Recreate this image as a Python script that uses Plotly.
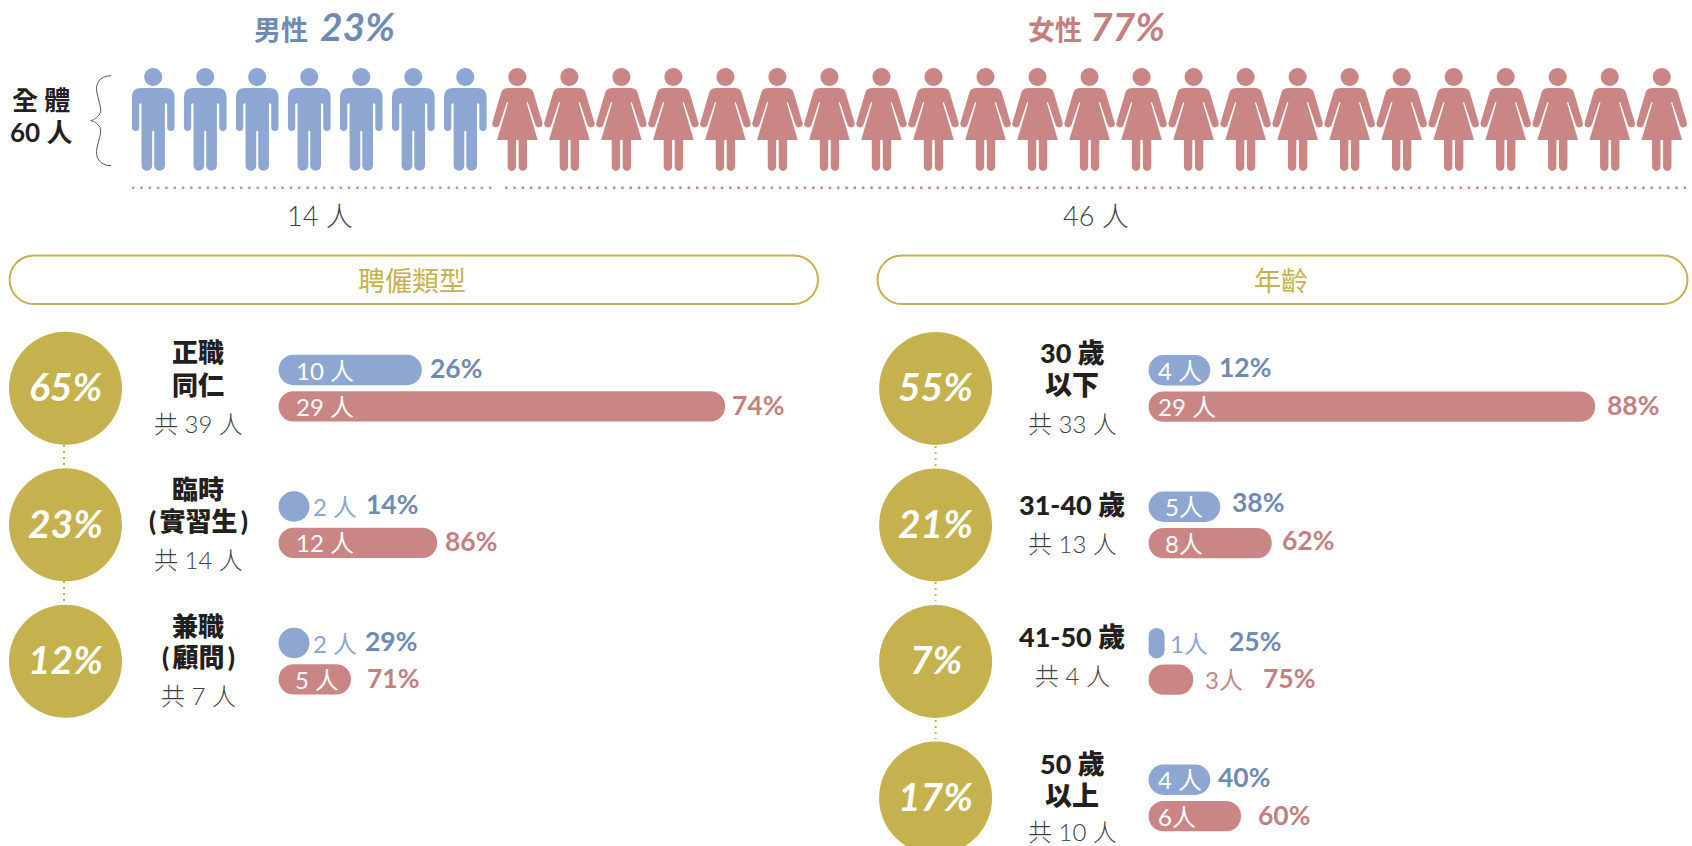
import plotly.graph_objects as go

# ---------- data ----------
total_label = ["全 體", "60 人"]
male_total = 14
female_total = 46
male_share = 23
female_share = 77
people_per_icon = 2

hire_names = [["正職", "同仁"], ["臨時", "(\u2009實習生\u2009)"], ["兼職", "(\u2009顧問\u2009)"]]
hire_share = [65, 23, 12]
hire_total = [39, 14, 7]
hire_male = [10, 2, 2]
hire_female = [29, 12, 5]
hire_male_pct = [26, 14, 29]
hire_female_pct = [74, 86, 71]
hire_male_bar = [9.3, 2.0, 2.0]
hire_female_bar = [29.0, 10.3, 4.7]

age_names = [["30 歲", "以下"], ["31-40 歲"], ["41-50 歲"], ["50 歲", "以上"]]
age_share = [55, 21, 7, 17]
age_total = [33, 13, 4, 10]
age_male = [4, 5, 1, 4]
age_female = [29, 8, 3, 6]
age_male_pct = [12, 38, 25, 40]
age_female_pct = [88, 62, 75, 60]
age_male_bar = [4.0, 4.65, 1.04, 4.0]
age_female_bar = [29.0, 8.0, 2.9, 6.0]

# ---------- style / layout constants ----------
W, H = 1692, 846
BLUE, PINK, GOLD = "#8EA6D2", "#C98685", "#C5B24E"
BLUE_T, PINK_T = "#708BB3", "#C47F81"
DARK, GREY = "#231F20", "#404040"
LAT = "Lato, 'Noto Sans CJK TC', sans-serif"
UNIT = 15.4
BAR_BASE = 3.0  # bars start away from the axis zero so both their ends get rounded

L = dict(x0=278.6, yc=388.2, dy=136.5, circle=65.5, label=198)
R = dict(x0=1148.6, yc=388.4, dy=136.5, circle=935.6, label=1072)

fig = go.Figure()
ann, shp = [], []


def text(x, y, s, size, color=DARK, weight=400, anchor="center", italic=False):
    ann.append(dict(
        x=x, y=y, xref="x3", yref="y3", text=s, showarrow=False, xanchor=anchor, yanchor="middle",
        borderpad=0, font=dict(family=LAT, size=size, color=color, weight=weight,
                               style="italic" if italic else "normal")))


def panel(P, xa, ya, xname, yname, share, male_bar, female_bar):
    n = len(share)
    male_y = [i - 18.2 / P["dy"] for i in range(n)]
    female_y = [i + 18.2 / P["dy"] for i in range(n)]
    thick = 30.4 / P["dy"]
    for ys, vals, col in ((male_y, male_bar, BLUE), (female_y, female_bar, PINK)):
        fig.add_trace(go.Bar(
            x=vals, y=ys, base=[BAR_BASE] * n, orientation="h", width=thick,
            marker=dict(color=col, cornerradius=15, line_width=0),
            xaxis=xa, yaxis=ya, showlegend=False, hoverinfo="skip"))
    cx = BAR_BASE + (P["circle"] - P["x0"]) / UNIT
    fig.add_trace(go.Scatter(
        x=[cx] * n, y=list(range(n)), mode="markers",
        marker=dict(size=113, color=GOLD, line_width=0),
        xaxis=xa, yaxis=ya, showlegend=False, hoverinfo="skip", cliponaxis=True))
    lay = {
        xname: dict(domain=[0, 1], range=[BAR_BASE - P["x0"] / UNIT, BAR_BASE + (W - P["x0"]) / UNIT],
                    visible=False, fixedrange=True),
        yname: dict(domain=[0, 1], range=[(H - P["yc"]) / P["dy"], -P["yc"] / P["dy"]], visible=False, fixedrange=True),
    }
    if xa != "x":
        lay[xname]["overlaying"] = "x"
        lay[yname]["overlaying"] = "y"
    lay[xname]["anchor"] = ya
    lay[yname]["anchor"] = xa
    fig.update_layout(**lay)
    for i in range(n):
        text(P["circle"], P["yc"] + P["dy"] * i - 2, f"{share[i]}%", 39, "white", 700, italic=True)


panel(L, "x", "y", "xaxis", "yaxis", hire_share, hire_male_bar, hire_female_bar)
panel(R, "x2", "y2", "xaxis2", "yaxis2", age_share, age_male_bar, age_female_bar)

fig.update_layout(
    xaxis3=dict(domain=[0, 1], range=[0, W], visible=False, fixedrange=True, overlaying="x", anchor="y3"),
    yaxis3=dict(domain=[0, 1], range=[H, 0], visible=False, fixedrange=True, overlaying="y", anchor="x3"),
)
fig.add_trace(go.Scatter(x=[0], y=[0], xaxis="x3", yaxis="y3", mode="markers", marker=dict(opacity=0, size=1),
                         showlegend=False, hoverinfo="skip"))


# ---------- shapes ----------
def shape_path(path, fill=None, line=None, width=0, layer="above"):
    d = dict(type="path", path=path, xref="x3", yref="y3", layer=layer, line=dict(width=width))
    if fill:
        d["fillcolor"] = fill
    if line:
        d["line"]["color"] = line
    shp.append(d)


def head(cx, cy, r=9.0):
    k = 0.5523 * r
    return (f"M{cx-r},{cy} C{cx-r},{cy-k} {cx-k},{cy-r} {cx},{cy-r} C{cx+k},{cy-r} {cx+r},{cy-k} {cx+r},{cy} "
            f"C{cx+r},{cy+k} {cx+k},{cy+r} {cx},{cy+r} C{cx-k},{cy+r} {cx-r},{cy+k} {cx-r},{cy} Z ")


def p(cx, top, pts):
    return " ".join(
        (f"{c}" + " ".join(f"{cx + a[i]:.2f},{top + a[i + 1]:.2f}" for i in range(0, len(a), 2))) for c, a in pts)


MAN = [("M", [-12, 0]), ("L", [12, 0]), ("Q", [21.3, 0, 21.3, 9]), ("L", [21.3, 39.5]),
       ("C", [21.3, 44.3, 14, 44.3, 14, 39.5]), ("L", [14, 16.5]), ("Q", [13, 15, 12.3, 15]), ("Q", [11.7, 15, 11.7, 16.5]),
       ("L", [11.7, 77.3]), ("C", [11.7, 84.5, 1, 84.5, 1, 77.3]), ("L", [1, 43]), ("L", [-1, 43]), ("L", [-1, 77.3]),
       ("C", [-1, 84.5, -11.7, 84.5, -11.7, 77.3]), ("L", [-11.7, 16.5]), ("Q", [-11.7, 15, -12.3, 15]),
       ("Q", [-13, 15, -14, 16.5]), ("L", [-14, 39.5]), ("C", [-14, 44.3, -21.3, 44.3, -21.3, 39.5]),
       ("L", [-21.3, 9]), ("Q", [-21.3, 0, -12, 0]), ("Z", [])]

WOMAN = [("M", [-9, 0]), ("L", [9, 0]), ("Q", [14.5, 0, 16, 4]), ("L", [25, 34.5]),
         ("C", [26.5, 39.5, 19.5, 41.5, 18, 36.8]), ("L", [10.5, 14.6]), ("Q", [9.7, 13.4, 9.3, 14.8]),
         ("L", [20.3, 52]), ("L", [9.7, 52]), ("L", [9.7, 78.3]), ("C", [9.7, 84.5, 1.3, 84.5, 1.3, 78.3]), ("L", [1.3, 52]),
         ("L", [-1.3, 52]), ("L", [-1.3, 78.3]), ("C", [-1.3, 84.5, -9.7, 84.5, -9.7, 78.3]), ("L", [-9.7, 52]),
         ("L", [-20.3, 52]), ("L", [-9.3, 14.8]), ("Q", [-9.7, 13.4, -10.5, 14.6]), ("L", [-18, 36.8]),
         ("C", [-19.5, 41.5, -26.5, 39.5, -25, 34.5]), ("L", [-16, 4]), ("Q", [-14.5, 0, -9, 0]), ("Z", [])]

n_men = male_total // people_per_icon
n_women = female_total // people_per_icon
ICON_X0, ICON_DX, ICON_TOP = 153.2, 52.02, 88.0
for i in range(n_men + n_women):
    cx = ICON_X0 + ICON_DX * i
    man = i < n_men
    shape_path(head(cx, ICON_TOP - 11) + p(cx, ICON_TOP, MAN if man else WOMAN), BLUE if man else PINK)

# brace
shape_path("M111,75.7 C99,76 95,84 97,93 C99,103 103,111 99,115 C96,119 93,120 90.7,120.7 "
           "C93,121 96,122 99,126 C103,130 99,138 97,148 C95,157 99,165.4 111,165.7", line="#555555", width=1)


def line(x0, y0, x1, y1, color, width, dash):
    shp.append(dict(type="line", x0=x0, y0=y0, x1=x1, y1=y1, xref="x3", yref="y3", layer="below",
                    line=dict(color=color, width=width, dash=dash)))


line(132, 187.7, 495.6, 187.7, BLUE, 2.5, "2.5px,5.8px")
line(505, 187.7, 1686, 187.7, PINK, 2.5, "2.5px,5.8px")
for x, segs in ((64, [(445, 466), (581, 602)]), (935.6, [(446, 466), (582, 601), (720, 739)])):
    for a, b in segs:
        line(x, a, x, b, GOLD, 2, "2px,4px")


def pill(x0, x1, y0, y1):
    r = (y1 - y0) / 2
    k = r * 0.5523
    shape_path(f"M{x0+r},{y0} L{x1-r},{y0} C{x1-r+k},{y0} {x1},{y0+r-k} {x1},{y0+r} C{x1},{y0+r+k} {x1-r+k},{y1} {x1-r},{y1} "
               f"L{x0+r},{y1} C{x0+r-k},{y1} {x0},{y0+r+k} {x0},{y0+r} C{x0},{y0+r-k} {x0+r-k},{y0} {x0+r},{y0} Z",
               line=GOLD, width=2)


pill(9.6, 818, 255.5, 304)
pill(877.5, 1687.5, 255.5, 304)

# ---------- texts ----------
text(309, 29, "男性", 27, BLUE_T, 700, "right")
text(319, 25.5, f"{male_share}%", 39, BLUE_T, 700, "left", True)
text(1083, 29, "女性", 27, PINK_T, 700, "right")
text(1089, 25.5, f"{female_share}%", 39, PINK_T, 700, "left", True)
text(41, 100, total_label[0], 26, DARK, 700)
text(41, 132, total_label[1], 26, DARK, 700)
text(320, 215.5, f"{male_total} 人", 27, GREY, 300)
text(1096, 215.5, f"{female_total} 人", 27, GREY, 300)
text(412, 280, "聘僱類型", 27, GOLD, 400)
text(1281, 280, "年齡", 27, GOLD, 400)

# category labels: (y-list for name lines, y for total)
hire_label_y = [([352.2, 384.5], 423.5), ([489, 520.5], 559), ([625.5, 657.2], 695)]
age_label_y = [([352.2, 384.4], 423.4), ([504.7], 543.2), ([636.6], 675.4), ([763, 795], 831.5)]
for names, tot, ypos, P, sz in ((hire_names, hire_total, hire_label_y, L, 26), (age_names, age_total, age_label_y, R, 27)):
    for nm, t, (ys, yt) in zip(names, tot, ypos):
        for s, y in zip(nm, ys):
            text(P["label"], y, s, sz, DARK, 900)
        text(P["label"], yt, f"共 {t} 人", 24, GREY, 300)

# count labels
hire_m_count_x = [294.5, 312.3, 312.3]
hire_f_count_x = [294.5, 294.5, 293.5]
age_m_count_x = [1156.5, 1163.5, 1168.8, 1156.5]
age_f_count_x = [1156.5, 1163.5, 1204.4, 1156.5]
hire_m_inside = [True, False, False]
hire_f_inside = [True, True, True]
age_m_inside = [True, True, False, True]
age_f_inside = [True, True, False, True]
age_sep = [" ", "", "", " "]
age_sep_f = [" ", "", "", ""]

# percent labels
hire_m_pct_x = [428.5, 364.8, 363.8]
hire_f_pct_x = [730.5, 443.9, 365.8]
age_m_pct_x = [1217.5, 1230.9, 1228.3, 1216.5]
age_f_pct_x = [1605.5, 1281.3, 1261.5, 1256.5]
hire_m_pct_y = [367.8, 503.7, 640.5]
hire_f_pct_y = [404.7, 540.5, 678]
age_m_pct_y = [367.3, 501.5, 640.8, 776.8]
age_f_pct_y = [404.6, 540.2, 678.4, 815]

for P, mn, fn, mx, fx, mi, fi, ms, fs, mp, fp, mpx, fpx, mpy, fpy in (
    (L, hire_male, hire_female, hire_m_count_x, hire_f_count_x, hire_m_inside, hire_f_inside,
     [" "] * 3, [" "] * 3, hire_male_pct, hire_female_pct, hire_m_pct_x, hire_f_pct_x, hire_m_pct_y, hire_f_pct_y),
    (R, age_male, age_female, age_m_count_x, age_f_count_x, age_m_inside, age_f_inside,
     age_sep, age_sep_f, age_male_pct, age_female_pct, age_m_pct_x, age_f_pct_x, age_m_pct_y, age_f_pct_y),
):
    for i in range(len(mn)):
        yc = P["yc"] + P["dy"] * i
        text(mx[i], yc - 18.2, f"{mn[i]}{ms[i]}人", 24, "white" if mi[i] else BLUE, 400, "left")
        text(fx[i], yc + 18.2, f"{fn[i]}{fs[i]}人", 24, "white" if fi[i] else PINK, 400, "left")
        text(mpx[i], mpy[i], f"{mp[i]}%", 26.5, BLUE_T, 700, "left")
        text(fpx[i], fpy[i], f"{fp[i]}%", 26.5, PINK_T, 700, "left")

fig.update_layout(
    width=W, height=H, margin=dict(l=0, r=0, t=0, b=0), paper_bgcolor="white", plot_bgcolor="rgba(0,0,0,0)",
    barmode="overlay", showlegend=False, annotations=ann, shapes=shp, hovermode=False,
)
fig.write_html("out.html", config={"displayModeBar": False, "staticPlot": True},
               post_script="document.body.style.margin='0';document.documentElement.style.overflow='hidden';")
